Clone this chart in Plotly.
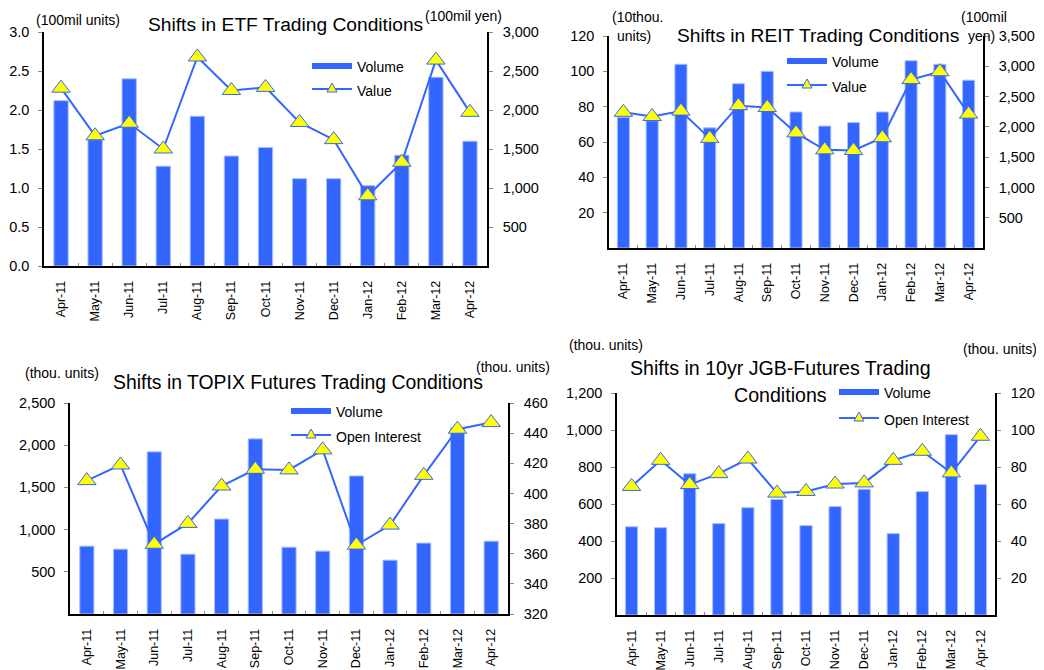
import plotly.graph_objects as go

# page body adds an 8px margin; build the figure so content lands on target pixels
OFF = 8
W, H = 1044 - OFF, 670 - OFF

months = ["Apr-11", "May-11", "Jun-11", "Jul-11", "Aug-11", "Sep-11", "Oct-11",
          "Nov-11", "Dec-11", "Jan-12", "Feb-12", "Mar-12", "Apr-12"]

etf_volume = [2.12, 1.62, 2.40, 1.28, 1.92, 1.41, 1.52, 1.12, 1.12, 1.03, 1.42, 2.42, 1.60]
etf_value = [2280, 1670, 1830, 1500, 2680, 2250, 2290, 1840, 1620, 900, 1330, 2640, 1970]

reit_volume = [74, 72, 104, 68, 93, 100, 77, 69, 71, 77, 106, 104, 95]
reit_value = [2240, 2170, 2260, 1810, 2350, 2320, 1900, 1620, 1610, 1820, 2780, 2910, 2210]

topix_volume = [804, 768, 1921, 709, 1125, 2075, 792, 745, 1636, 638, 840, 2206, 863]
topix_oi = [408.5, 418.9, 366.3, 380.1, 404.9, 416.0, 415.6, 428.9, 365.7, 379.0, 412.0, 442.6, 447.0]

jgb_volume = [477, 472, 764, 494, 580, 625, 483, 586, 680, 440, 667, 975, 705]
jgb_oi = [69.5, 83.6, 70.5, 76.4, 84.3, 65.9, 66.8, 70.8, 71.4, 83.6, 88.5, 76.8, 96.6]

etf_left_ticks = [0.0, 0.5, 1.0, 1.5, 2.0, 2.5, 3.0]
etf_right_ticks = [500, 1000, 1500, 2000, 2500, 3000]
reit_left_ticks = [20, 40, 60, 80, 100, 120]
reit_right_ticks = [500, 1000, 1500, 2000, 2500, 3000, 3500]
topix_left_ticks = [500, 1000, 1500, 2000, 2500]
topix_right_ticks = [320, 340, 360, 380, 400, 420, 440, 460]
jgb_left_ticks = [200, 400, 600, 800, 1000, 1200]
jgb_right_ticks = [20, 40, 60, 80, 100, 120]

BLUE = "#3366FF"
YELLOW = "#FFFF00"
FONT = "Liberation Sans, Arial, sans-serif"

def px(x):
    return (x - OFF) / W

def py(y):
    return 1 - (y - OFF) / H

charts = [
    dict(vol=etf_volume, line=etf_value, lt=etf_left_ticks, rt=etf_right_ticks,
         lr=[0, 3], rr=[0, 3000], lfmt=".1f", rfmt=",",
         box=(44, 487, 32, 266), line_name="Value",
         leg=(312, 66, 89)),
    dict(vol=reit_volume, line=reit_value, lt=reit_left_ticks, rt=reit_right_ticks,
         lr=[0, 120], rr=[0, 3500], lfmt=",", rfmt=",",
         box=(609, 983, 36, 248), line_name="Value",
         leg=(787, 61, 85)),
    dict(vol=topix_volume, line=topix_oi, lt=topix_left_ticks, rt=topix_right_ticks,
         lr=[0, 2500], rr=[320, 460], lfmt=",", rfmt=",",
         box=(70, 508, 403, 614), line_name="Open Interest",
         leg=(291, 411, 435)),
    dict(vol=jgb_volume, line=jgb_oi, lt=jgb_left_ticks, rt=jgb_right_ticks,
         lr=[0, 1200], rr=[0, 120], lfmt=",", rfmt=",",
         box=(617, 995, 393, 615), line_name="Open Interest",
         leg=(839, 392, 418)),
]

fig = go.Figure()
layout = dict(width=W, height=H, autosize=False,
              margin=dict(l=0, r=0, t=0, b=0, pad=0, autoexpand=False),
              paper_bgcolor="white", plot_bgcolor="white", showlegend=False,
              font=dict(family=FONT, color="black"))
shapes = []
annotations = []

for i, c in enumerate(charts):
    xi = "" if i == 0 else str(i + 1)
    yl = "" if i == 0 else str(2 * i + 1)
    yr = str(2 * i + 2)
    x0, x1, y0, y1 = c["box"]
    fig.add_trace(go.Bar(x=months, y=c["vol"], xaxis="x" + xi, yaxis="y" + yl,
                         width=0.42, marker=dict(color=BLUE, line=dict(color="#A8BEFF", width=1))))
    fig.add_trace(go.Scatter(x=months, y=c["line"], xaxis="x" + xi, yaxis="y" + yr,
                             mode="lines+markers",
                             line=dict(color=BLUE, width=2),
                             marker=dict(symbol="triangle-up", size=16, color=YELLOW,
                                         line=dict(color=BLUE, width=1))))
    layout["xaxis" + xi] = dict(domain=[px(x0), px(x1)], anchor="y" + yl,
                                type="category", range=[-0.5, 12.5], automargin=False,
                                showline=True, linecolor="black", linewidth=1.5,
                                ticks="inside", tickson="boundaries", ticklen=3,
                                tickcolor="#888", tickangle=-90,
                                tickfont=dict(size=12.5, family=FONT),
                                ticklabelstandoff=8, showgrid=False, zeroline=False)
    layout["yaxis" + yl] = dict(domain=[py(y1), py(y0)], anchor="x" + xi, automargin=False,
                                range=c["lr"], tickvals=c["lt"], tickformat=c["lfmt"],
                                showline=True, linecolor="black", linewidth=1.5,
                                ticks="outside", ticklen=4, tickcolor="#888",
                                tickfont=dict(size=14.5, family=FONT),
                                ticklabelstandoff=6, showgrid=False, zeroline=False)
    layout["yaxis" + yr] = dict(overlaying="y" + yl, side="right", anchor="x" + xi,
                                automargin=False,
                                range=c["rr"], tickvals=c["rt"], tickformat=c["rfmt"],
                                showline=True, linecolor="black", linewidth=1.5,
                                ticks="outside", ticklen=4, tickcolor="#888",
                                tickfont=dict(size=14.5, family=FONT),
                                ticklabelstandoff=7, showgrid=False, zeroline=False)
    # custom legend
    lx, ry, ly = c["leg"]
    shapes.append(dict(type="rect", xref="paper", yref="paper",
                       x0=px(lx), x1=px(lx + 40), y0=py(ry + 3), y1=py(ry - 3),
                       fillcolor=BLUE, line=dict(width=0)))
    shapes.append(dict(type="line", xref="paper", yref="paper",
                       x0=px(lx), x1=px(lx + 40), y0=py(ly), y1=py(ly),
                       line=dict(color=BLUE, width=2)))
    tx = lx + 20
    path = "M {a},{b} L {c},{d} L {e},{f} Z".format(
        a=px(tx - 5), b=py(ly + 3), c=px(tx + 5), d=py(ly + 3), e=px(tx), f=py(ly - 6))
    shapes.append(dict(type="path", xref="paper", yref="paper", path=path,
                       fillcolor=YELLOW, line=dict(color=BLUE, width=1)))
    annotations.append(dict(text="Volume", xref="paper", yref="paper", x=px(lx + 43),
                            y=py(ry + 1), xanchor="left", yanchor="middle", showarrow=False,
                            font=dict(size=14, family=FONT)))
    annotations.append(dict(text=c["line_name"], xref="paper", yref="paper", x=px(lx + 43),
                            y=py(ly + 2), xanchor="left", yanchor="middle", showarrow=False,
                            font=dict(size=14, family=FONT)))

def label(text, x, y, size=14.5, anchor="center"):
    annotations.append(dict(text=text, xref="paper", yref="paper", x=px(x), y=py(y),
                            xanchor=anchor, yanchor="middle", showarrow=False,
                            font=dict(size=size, family=FONT)))

# titles
label("Shifts in ETF Trading Conditions", 285, 24, 19.2)
label("Shifts in REIT Trading Conditions", 818, 35, 19.2)
label("Shifts in TOPIX Futures Trading Conditions", 298, 382, 19.4)
label("Shifts in 10yr JGB-Futures Trading", 780, 368, 19.6)
label("Conditions", 780, 395, 19.6)

# unit labels
label("(100mil units)", 78, 20, 14)
label("(100mil yen)", 463, 16, 14)
label("(10thou.", 637, 17, 14)
label("units)", 634, 36, 14)
label("(100mil", 984, 17, 14)
label("yen)", 981, 36, 14)
label("(thou. units)", 62, 373, 14)
label("(thou. units)", 513, 367, 14)
label("(thou. units)", 606, 345, 14)
label("(thou. units)", 1000, 349, 14)

layout["shapes"] = shapes
layout["annotations"] = annotations
fig.update_layout(**layout)
fig.write_html("out.html")
